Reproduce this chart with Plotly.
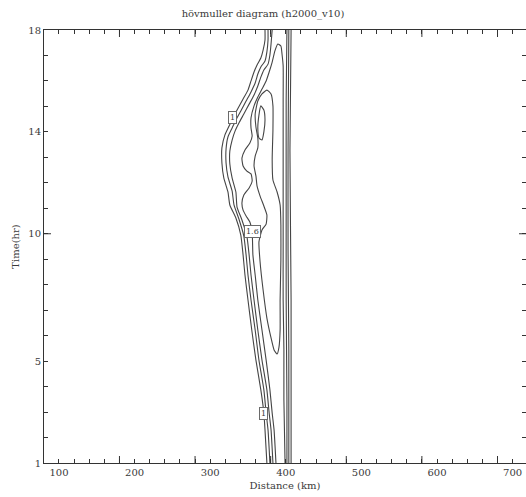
import plotly.graph_objects as go

# Hovmoller diagram of h2000_v10: contour lines of the field over distance (km) and time (hr)

# --- axis ticks ---
x_label_vals = [100, 200, 300, 400, 500, 600, 700]
x_major_ticks = [180, 280, 380, 480, 580, 680]
x_minor_ticks = list(range(80, 720, 20))
y_label_vals = [1, 5, 10, 14, 18]
y_major_ticks = [10]
y_minor_ticks = list(range(1, 19))

# --- contour levels ---
levels = [1.0, 1.2, 1.4, 1.6, 1.8, 2.0]

# level 1.0, western edge (bottom to top)
c10_west_km = [375, 372.5, 371, 367, 360.5, 355, 350, 346, 343.5, 340.5, 334, 326, 323.5, 318, 315.5,
               315.5, 319.5, 325, 330, 337, 343.5, 350, 354, 358, 362, 367, 370, 372.5, 372.5]
c10_west_hr = [1.0, 2.3, 2.96, 3.87, 5.04, 6.22, 7.4, 8.38, 9.17, 9.95, 10.62, 11.13, 11.64, 12.19, 12.78,
               13.37, 13.88, 14.23, 14.55, 14.94, 15.29, 15.64, 16.0, 16.35, 16.63, 16.9, 17.21, 17.61, 18.0]

# level 1.2, western edge
c12_west_km = [379, 376.5, 374, 371, 364.5, 359.5, 354, 350, 347.5, 344.5, 338, 331.5, 329, 323.5, 321,
               321, 323.5, 329, 334, 340.5, 347.5, 354, 359.5, 363, 367, 372.5, 375, 376.5, 376.5]
c12_west_hr = [1.0, 2.3, 2.96, 3.87, 5.04, 6.22, 7.4, 8.38, 9.17, 9.91, 10.58, 11.13, 11.68, 12.23, 12.78,
               13.33, 13.80, 14.15, 14.47, 14.82, 15.21, 15.57, 15.92, 16.27, 16.55, 16.78, 17.14, 17.61, 18.0]

# level 1.4, western edge
c14_west_km = [383, 380.5, 378, 375, 368.5, 363, 358, 354, 351.5, 348.5, 342, 335.5, 334, 329, 326,
               326, 329, 333, 338, 344.5, 351.5, 358, 363, 367, 371, 376.5, 379, 380.5, 382]
c14_west_hr = [1.0, 2.3, 2.96, 3.87, 5.04, 6.22, 7.4, 8.38, 9.17, 9.91, 10.54, 11.05, 11.64, 12.19, 12.74,
               13.25, 13.68, 14.04, 14.35, 14.70, 15.09, 15.45, 15.80, 16.15, 16.43, 16.66, 17.02, 17.45, 18.0]

# level 1.6: up the western side, round the crest, down the eastern front
c16_km = [387, 384.5, 382, 379, 374, 368.5, 363, 359.5, 356.5, 355.5, 352.5, 347.5, 343.5, 342, 344.5,
          351.5, 355.5, 354, 348.5, 343.5, 342, 346, 352.5, 355.5, 354, 354, 358, 363, 368.5, 374,
          378, 382, 385.5, 389.5, 393.5, 395, 396.5, 396.5, 396.5, 396.5, 396.5, 396.5, 397.5, 397.5, 399]
c16_hr = [1.0, 2.3, 2.96, 3.87, 5.04, 6.22, 7.4, 8.38, 9.17, 10.07, 10.46, 10.70, 10.93, 11.21, 11.52,
          11.80, 12.07, 12.35, 12.46, 12.66, 12.97, 13.29, 13.56, 13.84, 14.15, 14.55, 15.02, 15.37, 15.68, 16.0,
          16.35, 16.74, 17.17, 17.45, 17.37, 17.06, 16.59, 15.25, 13.29, 11.33, 9.36, 7.4, 5.44, 3.47, 1.0]

# eastern front for levels 1.4, 1.2, 1.0
c14_east_km = [401.5, 401.5, 400.5, 400.5, 400.5, 401.5]
c14_east_hr = [1.0, 3.47, 7.4, 11.33, 15.25, 18.0]
c12_east_km = [404, 404, 403, 403, 404]
c12_east_hr = [1.0, 5.44, 9.36, 13.29, 18.0]
c10_east_km = [407, 407, 405.5, 407]
c10_east_hr = [1.0, 7.4, 13.29, 18.0]

# level 1.8, closed
c18_km = [375, 380.5, 383, 383, 382, 383, 388.5, 392.5, 393.5, 393.5, 392.5, 392.5, 391, 388.5, 384.5,
          380.5, 375, 370, 366, 364.5, 368.5, 374, 375, 371, 366, 362, 360.5, 358, 359.5, 363,
          363, 360.5, 359.5, 363, 368.5, 375]
c18_hr = [15.64, 15.49, 15.02, 14.07, 12.9, 12.11, 11.64, 11.13, 10.34, 8.97, 7.4, 6.22, 5.55, 5.28, 5.44,
          5.91, 6.69, 7.79, 8.89, 9.68, 10.15, 10.38, 10.74, 11.09, 11.48, 11.87, 12.27, 12.66, 13.05, 13.37,
          13.76, 14.19, 14.70, 15.21, 15.49, 15.64]

# level 2.0, closed (maximum)
c20_km = [367, 371, 372.5, 371, 368.5, 364.5, 363, 364.5, 367]
c20_hr = [15.02, 14.86, 14.47, 14.0, 13.68, 13.76, 14.15, 14.66, 15.02]

lines = [
    (c10_west_km, c10_west_hr), (c12_west_km, c12_west_hr), (c14_west_km, c14_west_hr),
    (c16_km, c16_hr),
    (c14_east_km, c14_east_hr), (c12_east_km, c12_east_hr), (c10_east_km, c10_east_hr),
    (c18_km, c18_hr), (c20_km, c20_hr),
]

LINE = "#454545"
AXIS = "#333333"
TEXT = "#3a3a3a"
FONT = "DejaVu Serif"
MINOR_LEN = 4
MAJOR_LEN = 7

fig = go.Figure()
for xs, ys in lines:
    fig.add_trace(go.Scatter(x=xs, y=ys, mode="lines", hoverinfo="skip",
                             line=dict(color=LINE, width=1.1, shape="spline", smoothing=0.5),
                             showlegend=False))

# contour labels sit on the lines they name
def level_text(v):
    return f"{v:g}"

label_specs = [
    (c10_west_km[18], c10_west_hr[18], levels[0]),
    (c16_km[9], c16_hr[9], levels[3]),
    (c10_west_km[2], c10_west_hr[2], levels[0]),
]
for lx, ly, lv in label_specs:
    fig.add_annotation(x=lx, y=ly, text=level_text(lv), showarrow=False,
                       font=dict(family=FONT, size=8, color=TEXT),
                       bgcolor="white", bordercolor="#6a6a6a", borderwidth=1, borderpad=1)

# longer ticks on all four frame edges
for v in x_major_ticks:
    for anchor, y1 in ((0, MAJOR_LEN), (1, -MAJOR_LEN)):
        fig.add_shape(type="line", xref="x", x0=v, x1=v, yref="y domain", ysizemode="pixel",
                      yanchor=anchor, y0=0, y1=y1, line=dict(color=AXIS, width=1))
for v in y_major_ticks:
    for anchor, x1 in ((0, MAJOR_LEN), (1, -MAJOR_LEN)):
        fig.add_shape(type="line", yref="y", y0=v, y1=v, xref="x domain", xsizemode="pixel",
                      xanchor=anchor, x0=0, x1=x1, line=dict(color=AXIS, width=1))

x_range = [80.2, 717.7]
y_range = [1, 18]

fig.update_layout(
    width=526, height=497,
    margin=dict(l=44, r=0, t=30, b=34),
    paper_bgcolor="white", plot_bgcolor="white",
    title=dict(text="hövmuller diagram (h2000_v10)", x=0.5, xanchor="center",
               y=1 - 13 / 497, yanchor="middle",
               font=dict(family=FONT, size=10, color=TEXT)),
    xaxis=dict(range=x_range, showgrid=False, zeroline=False,
               showline=True, linecolor=AXIS, mirror="allticks",
               tickvals=x_label_vals, ticktext=[str(v) for v in x_label_vals],
               ticks="inside", ticklen=MINOR_LEN, tickcolor=AXIS,
               tickfont=dict(family=FONT, size=10, color=TEXT),
               minor=dict(tickvals=x_minor_ticks, ticks="inside", ticklen=MINOR_LEN, tickcolor=AXIS),
               title=dict(text="Distance (km)", standoff=4,
                          font=dict(family=FONT, size=10, color=TEXT))),
    yaxis=dict(range=y_range, showgrid=False, zeroline=False,
               showline=True, linecolor=AXIS, mirror="allticks",
               tickvals=y_label_vals, ticktext=[str(v) for v in y_label_vals],
               ticks="inside", ticklen=MINOR_LEN, tickcolor=AXIS,
               tickfont=dict(family=FONT, size=10, color=TEXT),
               minor=dict(tickvals=y_minor_ticks, ticks="inside", ticklen=MINOR_LEN, tickcolor=AXIS),
               title=dict(text="Time(hr)", standoff=6,
                          font=dict(family=FONT, size=10, color=TEXT))),
)

fig.write_html("out.html")
